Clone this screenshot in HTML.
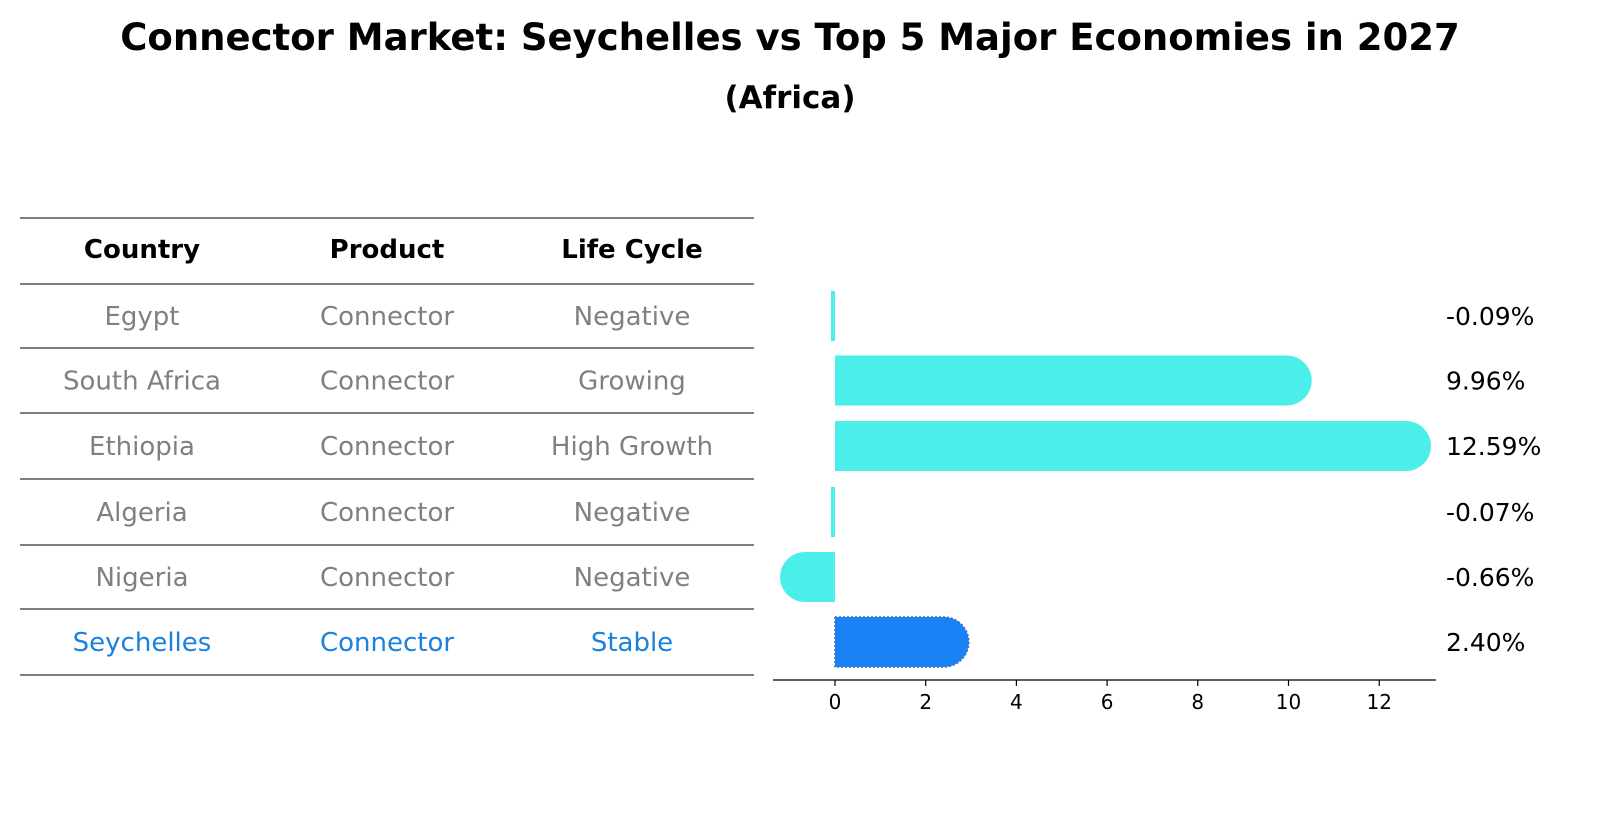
<!DOCTYPE html>
<html><head><meta charset="utf-8"><style>
body{margin:0;background:#fff;font-family:"Liberation Sans","DejaVu Sans",sans-serif;}
svg text{font-family:"DejaVu Sans","Liberation Sans",sans-serif;}
</style></head><body>
<svg id="c" width="1604" height="823" xmlns="http://www.w3.org/2000/svg">
<text x="790" y="50" text-anchor="middle" font-size="37" font-weight="bold">Connector Market: Seychelles vs Top 5 Major Economies in 2027</text>
<text x="790" y="108" text-anchor="middle" font-size="31" font-weight="bold">(Africa)</text>
<g id="table"></g>
<g id="bars"></g>
</svg>
<script>
const countries=["Egypt","South Africa","Ethiopia","Algeria","Nigeria","Seychelles"];
const lifeCycle=["Negative","Growing","High Growth","Negative","Negative","Stable"];
const values=[-0.09,9.96,12.59,-0.07,-0.66,2.40];
const ticks=[0,2,4,6,8,10,12];
const NS="http://www.w3.org/2000/svg";
function mk(t,a,p,txt){const e=document.createElementNS(NS,t);for(const k in a)e.setAttribute(k,a[k]);if(txt!==undefined)e.textContent=txt;p.appendChild(e);return e;}
const tb=document.getElementById('table'),bg=document.getElementById('bars');
const lineY=[218,284,348,413,479,545,609,675];
const colX=[142,387,632];
for(const y of lineY){const l=mk('line',{x1:20,x2:754,y1:y,y2:y,stroke:'#000','stroke-width':1},tb);

}
["Country","Product","Life Cycle"].forEach((h,i)=>{const t=mk('text',{x:colX[i],y:258,'text-anchor':'middle','font-size':26,'font-weight':'bold'},tb,h);

});
const rowY=i=>(lineY[i+1]+lineY[i+2])/2;
countries.forEach((c,i)=>{const col=c==="Seychelles"?'#1a82dc':'#808080';
[c,"Connector",lifeCycle[i]].forEach((v,j)=>{const t=mk('text',{x:colX[j],y:rowY(i)+9,'text-anchor':'middle','font-size':26,fill:col},tb,v);

});});
const x=v=>835+v*45.35;
const H=50,R=25;
values.forEach((v,i)=>{const cy=rowY(i),y0=cy-H/2;const hl=countries[i]==="Seychelles";
const fill=hl?'#1a82f5':'#4beee9';let el;
const w=Math.abs(x(v)-x(0));
if(w<8){el=mk('rect',{x:x(0)-4,y:y0,width:4,height:H,fill:fill},bg);}
else if(v>=0){el=mk('path',{d:`M${x(0)},${y0}H${x(v)}A${R},${R} 0 0 1 ${x(v)},${y0+H}H${x(0)}Z`,fill:fill},bg);}
else{el=mk('path',{d:`M${x(0)},${y0}H${x(v)}A${R},${R} 0 0 0 ${x(v)},${y0+H}H${x(0)}Z`,fill:fill},bg);}
if(hl){el.setAttribute('stroke','#3a6fc8');el.setAttribute('stroke-dasharray','2,2');el.setAttribute('stroke-width','1.5');}


const t=mk('text',{x:1446,y:cy+9,'font-size':25},bg,v.toFixed(2)+'%');

});
const ax=mk('line',{x1:773,x2:1436,y1:680,y2:680,stroke:'#000','stroke-width':1.2},bg);


ticks.forEach(tv=>{const tk=mk('line',{x1:x(tv),x2:x(tv),y1:680,y2:686,stroke:'#000','stroke-width':1.2},bg);


const t=mk('text',{x:x(tv),y:709,'text-anchor':'middle','font-size':20},bg,String(tv));

});
</script>
</body></html>
